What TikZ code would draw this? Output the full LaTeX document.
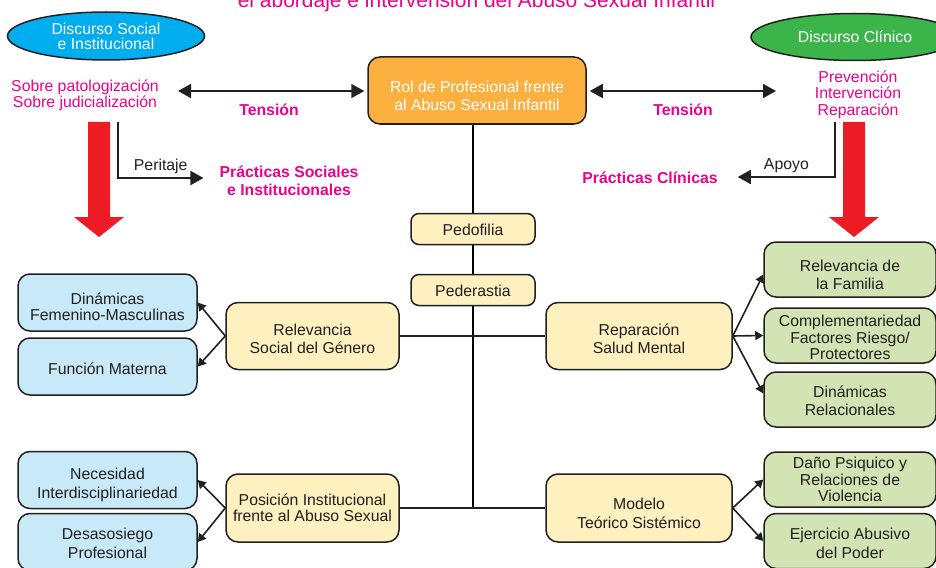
\documentclass[tikz,border=0pt]{standalone}
\usepackage{fontspec}
\setmainfont{Liberation Sans}
\usetikzlibrary{arrows.meta, positioning, shapes.geometric, backgrounds}
\definecolor{pinkC}{HTML}{EC008C}
\definecolor{cyanC}{HTML}{00AEEF}
\definecolor{greenC}{HTML}{3BB44A}
\definecolor{orangeC}{HTML}{FBB040}
\definecolor{paleY}{HTML}{FFF0C0}
\definecolor{paleB}{HTML}{C8E9F8}
\definecolor{paleG}{HTML}{D2E4B3}
\definecolor{redC}{HTML}{ED1C24}
\definecolor{ink}{HTML}{231F20}
% puntal invisible para bajar el texto dentro de las cajas
\newcommand{\vpush}[1]{\rule{0pt}{#1pt}}

\begin{document}
\begin{tikzpicture}[x=1pt, y=-1pt, font=\fontsize{15.8}{16.5}\selectfont, line width=1.6pt, draw=ink,
  box/.style={draw=ink, line width=1.5pt, rounded corners=12pt, align=center, text=ink, inner sep=2pt},
  yelbox/.style={box, fill=paleY},
  bluebox/.style={box, fill=paleB, minimum width=179pt, minimum height=57pt},
  grnbox/.style={box, fill=paleG, minimum width=172pt, minimum height=55pt},
  disc/.style={ellipse, draw=ink, line width=1.5pt, text=white, inner sep=0pt, align=center, font=\fontsize{15.8}{15}\selectfont},
  pinktxt/.style={text=pinkC, align=center},
  pinkbold/.style={text=pinkC, align=center, font=\fontsize{15.8}{18}\selectfont\bfseries},
  tens/.style={>={Triangle[length=13pt,width=14pt]}, <->, draw=ink, line width=1.8pt},
  lead/.style={>={Triangle[length=13pt,width=14pt]}, ->, draw=ink, line width=1.8pt},
  br/.style={>={Triangle[length=8pt,width=9pt]}, ->, draw=ink, line width=1.6pt}]
  \useasboundingbox (0,0) rectangle (936,567);

  % titulo (cortado arriba)
  \node[pinktxt, font=\fontsize{21}{24}\selectfont, anchor=base] (titulo) at (476.5,8) {el abordaje e intervensión del Abuso Sexual Infantil};

  % discursos
  \node[disc, fill=cyanC, minimum width=197pt, minimum height=48pt] (dsoc) at (106,36) {Discurso Social\\e Institucional};
  \node[disc, fill=greenC, minimum width=208pt, minimum height=47pt] (dcli) at (855,37) {Discurso Clínico};
  \node[pinktxt] (sobre) at (85,95.5) {Sobre patologización\\Sobre judicialización};
  \node[pinktxt] (prev) at (858,94.5) {Prevención\\Intervención\\Reparación};

  % rol central
  \node[box, fill=orangeC, text=white, minimum width=218pt, minimum height=67pt] (rol) at (477,90.5) {\vpush{21.5}Rol de Profesional frente\\[1.5pt]al Abuso Sexual Infantil};

  % tensiones
  \coordinate (tl) at (178,91);
  \coordinate (tr) at (776,91);
  \draw[tens, shorten >=3pt] (tl) -- (tl -| rol.west);
  \draw[tens, shorten <=3pt] (tr -| rol.east) -- (tr);
  \node[pinkbold] (ten1) at (269,109.5) {Tensión};
  \node[pinkbold] (ten2) at (683,109.5) {Tensión};

  % flechas rojas
  \foreach \cx in {99,854} {
    \fill[redC] (\cx-11,122) -- (\cx+11,122) -- (\cx+11,217) -- (\cx+25,217)
      -- (\cx,237) -- (\cx-25,217) -- (\cx-11,217) -- cycle;
  }

  % practicas
  \node[pinkbold] (psoc) at (289,180.5) {Prácticas Sociales\\e Institucionales};
  \node[pinkbold] (pcli) at (650,177.5) {Prácticas Clínicas};
  \coordinate (pa) at (118,122);
  \coordinate (pb) at (835,122);
  \draw[lead] (pa) |- ([xshift=-12pt, yshift=2.5pt]psoc.west) node[pos=0.75, above, text=ink] (lperi) {Peritaje};
  \draw[lead] (pb) |- ([xshift=16pt, yshift=0.5pt]pcli.east) node[pos=0.75, above, text=ink] (lapo) {Apoyo};

  % ejes
  \node[yelbox, rounded corners=8pt, minimum width=124pt, minimum height=31pt] (pedo) at (473,229) {\vpush{13.5}Pedofilia};
  \node[yelbox, rounded corners=8pt, minimum width=124pt, minimum height=31pt] (pede) at (473,290) {\vpush{13.5}Pederastia};
  \node[yelbox, minimum width=173pt, minimum height=67pt] (relev) at (312.5,336) {\vpush{17.5}Relevancia\\[1.5pt]Social del Género};
  \node[yelbox, minimum width=186pt, minimum height=67pt] (repar) at (639,336) {\vpush{17.5}Reparación\\[1.5pt]Salud Mental};
  \node[yelbox, minimum width=173pt, minimum height=68pt] (posic) at (312.5,508) {Posición Institucional\\frente al Abuso Sexual};
  \node[yelbox, minimum width=186pt, minimum height=68pt] (modelo) at (639,508) {\vpush{21.5}Modelo\\[2.5pt]Teórico Sistémico};

  \begin{scope}[on background layer]
    \draw[line width=1.6pt] (rol.south -| pedo) -- (pedo |- posic);
  \end{scope}
  \draw (relev.east) -- (repar.west);
  \draw (posic.east) -- (modelo.west);

  % izquierda
  \node[bluebox] (dinam) at (107.5,302.5) {\vpush{20.5}Dinámicas\\Femenino-Masculinas};
  \node[bluebox] (func) at (107.5,366.5) {\vpush{15.5}Función Materna};
  \node[bluebox] (neces) at (107.5,480) {\vpush{21.5}Necesidad\\[3pt]Interdisciplinariedad};
  \node[bluebox] (desas) at (107.5,542) {\vpush{14.5}Desasosiego\\[2pt]Profesional};

  % derecha
  \node[grnbox] (famil) at (850,269.5) {\vpush{22.5}Relevancia de\\[2pt]la Familia};
  \node[grnbox] (compl) at (850,335.5) {\vpush{15.5}Complementariedad\\Factores Riesgo/\\Protectores};
  \node[grnbox] (dinrel) at (850,399.5) {\vpush{14.5}Dinámicas\\[2pt]Relacionales};
  \node[grnbox] (dano) at (850,479.5) {Daño Psiquico y\\Relaciones de\\Violencia};
  \node[grnbox] (ejerc) at (850,541) {\vpush{16.5}Ejercicio Abusivo\\[2pt]del Poder};

  \draw[br] (relev.west) -- (dinam.east);
  \draw[br] (relev.west) -- (func.east);
  \draw[br] (posic.west) -- (neces.east);
  \draw[br] (posic.west) -- (desas.east);
  \draw[br] (repar.east) -- ([yshift=-5pt]famil.west);
  \draw[br] (repar.east) -- (compl.west);
  \draw[br] (repar.east) -- ([yshift=6pt]dinrel.west);
  \draw[br] (modelo.east) -- (dano.west);
  \draw[br] (modelo.east) -- (ejerc.west);
\end{tikzpicture}
\end{document}
